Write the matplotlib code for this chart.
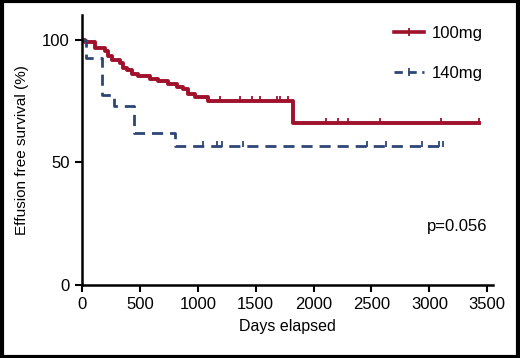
import numpy as np
import matplotlib
matplotlib.use("Agg")
import matplotlib.pyplot as plt
from matplotlib.lines import Line2D
from matplotlib.patches import Rectangle

# Kaplan-Meier steps (days, survival %)
red_t = [0, 25, 110, 195, 225, 260, 330, 355, 390, 430, 485, 585, 655, 740, 820, 870, 915, 975, 1085, 1820]
red_s = [100, 99, 96.7, 95.5, 93.5, 91.5, 90.5, 88.6, 87.4, 86, 85, 84, 83.3, 82, 80.5, 79.7, 78, 76.8, 74.8, 66]
red_end = 3430
red_cens = [1190, 1360, 1465, 1535, 1680, 1710, 1775, 2110, 2215, 2295, 2570, 3100, 3430]

blue_t = [0, 30, 170, 275, 445, 800]
blue_s = [100, 92.3, 77.5, 73.1, 62, 56.5]
blue_end = 3120
blue_cens = [1045, 1165, 1210, 1390, 2465, 2630, 2940, 3085, 3120]

labels = ["100mg", "140mg"]
xticks = [0, 500, 1000, 1500, 2000, 2500, 3000, 3500]
yticks = [0, 50, 100]

RED = "#a0122c"
BLUE = "#2d4677"
plt.rcParams["font.family"] = ["Liberation Sans", "DejaVu Sans"]


def surv_at(ts, ss, t):
    idx = np.searchsorted(ts, t, side="right") - 1
    return ss[idx]


fig = plt.figure(figsize=(5.2, 3.58), dpi=100)
ax = fig.add_axes([0.158, 0.204, 0.79, 0.754])

# red curve
rx = red_t + [red_end]
ry = red_s + [red_s[-1]]
ax.step(rx, ry, where="post", color=RED, lw=2.8)
ax.plot(red_cens, [surv_at(red_t, red_s, t) + 0.8 for t in red_cens], ls="none",
        marker="|", ms=5, mew=1.3, color=RED)

# blue curve
bx = blue_t + [blue_end]
by = blue_s + [blue_s[-1]]
ax.step(bx, by, where="post", color=BLUE, lw=2.0, dashes=(4, 2.5))
ax.plot(blue_cens, [surv_at(blue_t, blue_s, t) + 0.8 for t in blue_cens], ls="none",
        marker="|", ms=5, mew=1.3, color=BLUE)

ax.set_xlim(0, 3550)
ax.set_ylim(0, 110)
ax.set_xticks(xticks)
ax.set_yticks(yticks)
ax.tick_params(labelsize=12, width=1.5, length=5, direction="out", pad=4)
for s in ["top", "right"]:
    ax.spines[s].set_visible(False)
for s in ["left", "bottom"]:
    ax.spines[s].set_linewidth(1.8)

ax.set_xlabel("Days elapsed", fontsize=11.5, labelpad=5)
ax.set_ylabel("Effusion free survival (%)", fontsize=11, labelpad=9)

ax.text(2980, 24, "p=0.056", fontsize=12, va="center")

handles = [
    Line2D([], [], color=RED, lw=2.6, marker="|", ms=6, mew=1.3),
    Line2D([], [], color=BLUE, lw=2.0, dashes=(3, 2), marker="|", ms=6, mew=1.3),
]
ax.legend(handles, labels, loc="upper right", bbox_to_anchor=(1.012, 1.015), frameon=False,
          fontsize=12, labelspacing=1.5, handlelength=1.8, handletextpad=0.5)

fig.add_artist(Rectangle((0.003, 0.004), 0.994, 0.992, transform=fig.transFigure,
                         fill=False, ec="black", lw=3))

fig.savefig("out.png", dpi=100)
